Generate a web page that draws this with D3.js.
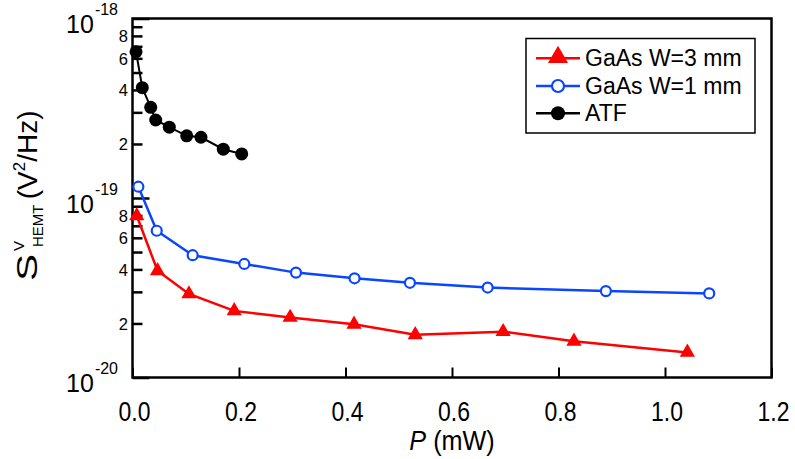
<!DOCTYPE html>
<html>
<head>
<meta charset="utf-8">
<script src="https://cdn.jsdelivr.net/npm/d3@7"></script>
<style>
  html, body { margin: 0; padding: 0; background: #fff; }
  svg { display: block; }
  text { font-family: "Liberation Sans", Arial, sans-serif; fill: #000; }
</style>
</head>
<body>
<svg id="chart" width="795" height="459"></svg>
<script>
// ---- data ----
const gaas3P = [0.008, 0.047, 0.106, 0.191, 0.296, 0.416, 0.531, 0.696, 0.829, 1.042];
const gaas3S = [7.96e-20, 3.93e-20, 2.92e-20, 2.35e-20, 2.16e-20, 1.98e-20, 1.73e-20, 1.80e-20, 1.59e-20, 1.38e-20];

const gaas1P = [0.011, 0.0455, 0.113, 0.210, 0.307, 0.417, 0.521, 0.667, 0.889, 1.083];
const gaas1S = [1.156e-19, 6.57e-20, 4.80e-20, 4.29e-20, 3.84e-20, 3.57e-20, 3.37e-20, 3.17e-20, 3.03e-20, 2.94e-20];

const atfP = [0.0066, 0.0184, 0.0342, 0.0436, 0.0691, 0.1018, 0.1286, 0.1705, 0.2051];
const atfS = [6.53e-19, 4.12e-19, 3.20e-19, 2.72e-19, 2.48e-19, 2.22e-19, 2.18e-19, 1.87e-19, 1.76e-19];

const xTicks = [0, 0.2, 0.4, 0.6, 0.8, 1.0, 1.2];
const yMajor = [1e-20, 1e-19, 1e-18];
const yMajorExp = ["-20", "-19", "-18"];
const yMinor = [2e-20,3e-20,4e-20,5e-20,6e-20,7e-20,8e-20,9e-20,2e-19,3e-19,4e-19,5e-19,6e-19,7e-19,8e-19,9e-19];
const yMinorLabeled = [2, 4, 6, 8];
const legendLabels = ["GaAs W=3 mm", "GaAs W=1 mm", "ATF"];

// ---- layout ----
const L = 132.5, R = 771.5, T = 18.5, B = 377.5;
const svg = d3.select("#chart");
svg.append("rect").attr("width", 795).attr("height", 459).attr("fill", "#fff");

const x = d3.scaleLinear().domain([0, 1.2]).range([L, R]);
const y = d3.scaleLog().domain([1e-20, 1e-18]).range([B, T]);

// ---- axes ticks (inward) ----
const yMinorAxis = d3.axisRight(y).tickValues(yMinor).tickSize(10).tickFormat("");
svg.append("g").attr("transform", `translate(${L},0)`).call(yMinorAxis)
  .call(g => g.select(".domain").remove())
  .call(g => g.selectAll("line").attr("stroke", "#000").attr("stroke-width", 2.5));
const yMajorAxis = d3.axisRight(y).tickValues(yMajor).tickSize(17).tickFormat("");
svg.append("g").attr("transform", `translate(${L},0)`).call(yMajorAxis)
  .call(g => g.select(".domain").remove())
  .call(g => g.selectAll("line").attr("stroke", "#000").attr("stroke-width", 2.5));

const xAxis = d3.axisTop(x).tickValues(xTicks).tickSize(10).tickFormat("");
svg.append("g").attr("transform", `translate(0,${B})`).call(xAxis)
  .call(g => g.select(".domain").remove())
  .call(g => g.selectAll("line").attr("stroke", "#000").attr("stroke-width", 2));

// frame
svg.append("rect").attr("x", L).attr("y", T).attr("width", R - L).attr("height", B - T)
  .attr("fill", "none").attr("stroke", "#000").attr("stroke-width", 2.5);

// x tick labels (condensed look)
svg.append("g").selectAll("text").data(xTicks).join("text")
  .attr("transform", d => `translate(${x(d) + 2},421) scale(0.82,1)`)
  .attr("text-anchor", "middle").attr("font-size", 28)
  .text(d => d3.format(".1f")(d));

// x title
const xt = svg.append("text")
  .attr("transform", `translate(${(L + R) / 2},450) scale(0.9,1)`)
  .attr("text-anchor", "middle").attr("font-size", 28);
xt.append("tspan").attr("font-style", "italic").text("P");
xt.append("tspan").text(" (mW)");

// y minor labels
const mant = v => Math.round(v / Math.pow(10, Math.floor(Math.log10(v) + 1e-9)));
svg.append("g").selectAll("text")
  .data(yMinor.filter(v => yMinorLabeled.includes(mant(v))))
  .join("text")
  .attr("x", 128).attr("y", d => y(d) + 6.5)
  .attr("text-anchor", "end").attr("font-size", 16.5)
  .text(d => mant(d));

// y major labels
yMajor.forEach((v, i) => {
  const t = svg.append("text").attr("x", 118).attr("y", y(v) + 14.5)
    .attr("text-anchor", "end").attr("font-size", 25);
  t.append("tspan").text("10");
  t.append("tspan").attr("font-size", 16).attr("dy", -18).attr("dx", 1).text(yMajorExp[i]);
});

// y title
const yg = svg.append("g").attr("transform", "translate(37,0) rotate(-90)");
yg.append("text").attr("x", -281).attr("y", 0).attr("font-size", 30)
  .attr("textLength", 27).attr("lengthAdjust", "spacingAndGlyphs").text("S");
const yt = yg.append("text").attr("font-size", 28);
yt.append("tspan").attr("x", -251).attr("y", -13).attr("font-size", 15).text("V");
yt.append("tspan").attr("x", -247).attr("y", 6).attr("font-size", 15).text("HEMT");
yt.append("tspan").attr("x", -207).attr("y", 0).text(" (V");
yt.append("tspan").attr("y", -12).attr("font-size", 17).text("2");
yt.append("tspan").attr("y", 0).text("/Hz)");

// ---- series ----
const redC = "#ff0000", blueC = "#0a46ff";
const line = d3.line().x(d => x(d[0])).y(d => y(d[1]));

const red = d3.zip(gaas3P, gaas3S);
const blue = d3.zip(gaas1P, gaas1S);
const blk = d3.zip(atfP, atfS);

svg.append("path").datum(red).attr("d", line).attr("fill", "none").attr("stroke", redC).attr("stroke-width", 2.5);
svg.append("g").selectAll("path").data(red).join("path")
  .attr("d", d3.symbol(d3.symbolTriangle, 100)())
  .attr("transform", d => `translate(${x(d[0])},${y(d[1])})`)
  .attr("fill", redC);

svg.append("path").datum(blue).attr("d", line).attr("fill", "none").attr("stroke", blueC).attr("stroke-width", 2.5);
svg.append("g").selectAll("circle").data(blue).join("circle")
  .attr("cx", d => x(d[0])).attr("cy", d => y(d[1])).attr("r", 5)
  .attr("fill", "#fff").attr("stroke", blueC).attr("stroke-width", 2.2);

svg.append("path").datum(blk).attr("d", line).attr("fill", "none").attr("stroke", "#000").attr("stroke-width", 2);
svg.append("g").selectAll("circle").data(blk).join("circle")
  .attr("cx", d => x(d[0])).attr("cy", d => y(d[1])).attr("r", 6.5)
  .attr("fill", "#000");

// ---- legend ----
const lg = svg.append("g");
lg.append("rect").attr("x", 526).attr("y", 38.5).attr("width", 229).attr("height", 94.5)
  .attr("fill", "#fff").attr("stroke", "#000").attr("stroke-width", 1.5);
const rows = [58.3, 86, 113.3];
const colors = [redC, blueC, "#000"];
rows.forEach((ry, i) => {
  lg.append("line").attr("x1", 536).attr("x2", 580).attr("y1", ry).attr("y2", ry)
    .attr("stroke", colors[i]).attr("stroke-width", 2.5);
  if (i === 0) {
    lg.append("path").attr("d", d3.symbol(d3.symbolTriangle, 175)())
      .attr("transform", `translate(558,${ry - 1})`).attr("fill", redC);
  } else if (i === 1) {
    lg.append("circle").attr("cx", 558).attr("cy", ry).attr("r", 6)
      .attr("fill", "#fff").attr("stroke", blueC).attr("stroke-width", 2.2);
  } else {
    lg.append("circle").attr("cx", 558).attr("cy", ry).attr("r", 7).attr("fill", "#000");
  }
  lg.append("text").attr("x", 585).attr("y", ry + 8).attr("font-size", 23).text(legendLabels[i]);
});
</script>
</body>
</html>
